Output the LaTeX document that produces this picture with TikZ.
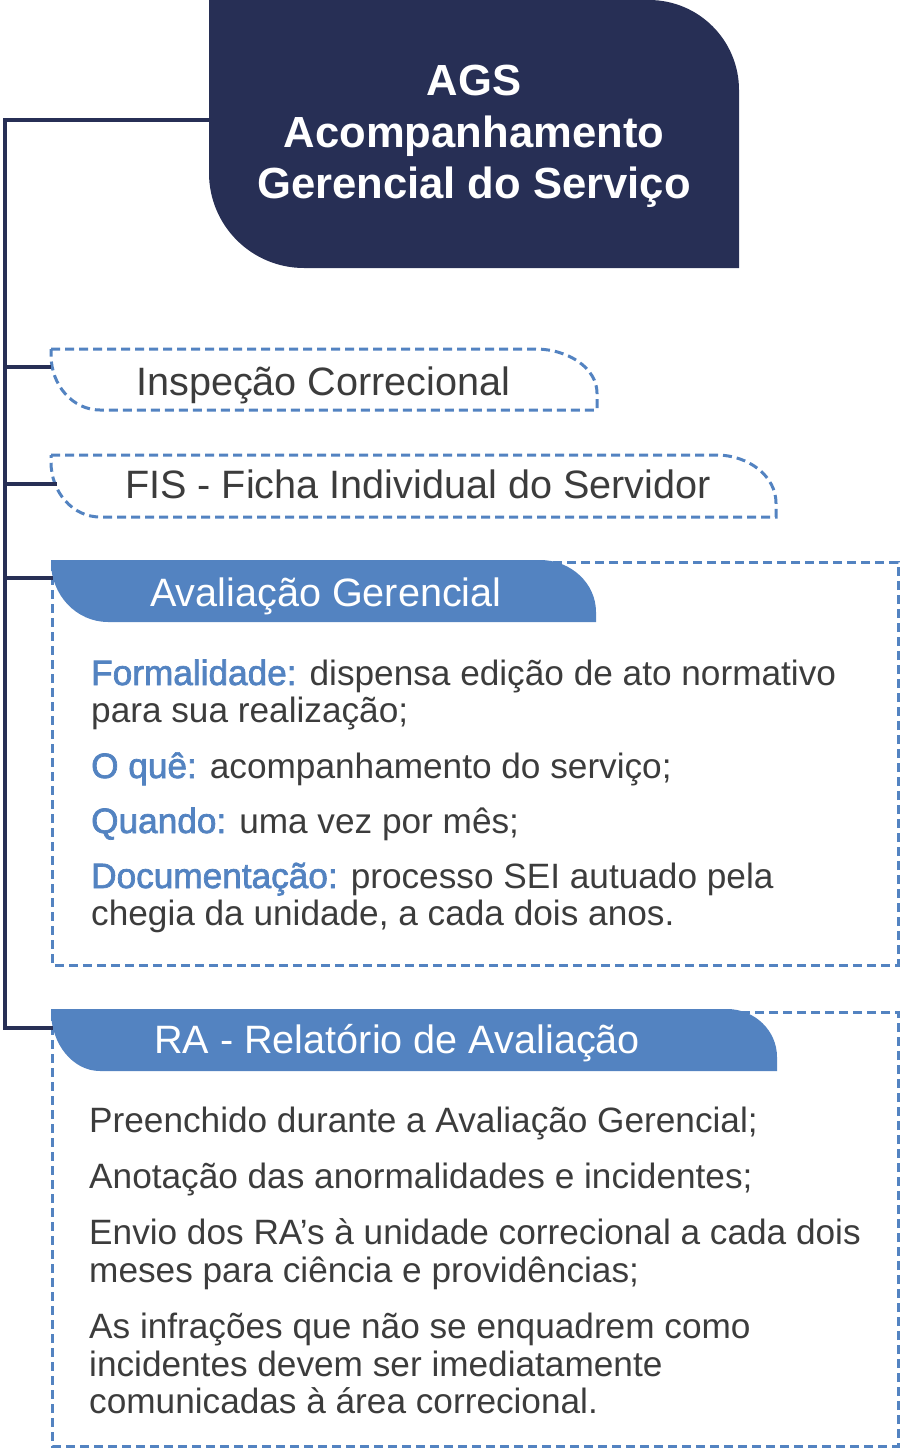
\documentclass[tikz,border=0pt]{standalone}
\usepackage{fontspec}
\setmainfont{Liberation Sans}
\newfontfamily\medfont{Liberation Sans}[FakeBold=2]
\definecolor{navy}{RGB}{39,47,85}
\definecolor{lblue}{RGB}{83,131,193}
\definecolor{txtgrey}{RGB}{60,60,60}
\tikzset{
  conn/.style={draw=navy, line width=4pt},
  dashbox/.style={draw=lblue, line width=3pt, dash pattern=on 9pt off 5pt},
  tabfill/.style={fill=lblue},
  headfill/.style={fill=navy},
  titletxt/.style={inner sep=0pt, anchor=base, text=white, font=\fontsize{43.6}{52}\selectfont\bfseries},
  tabtxt/.style={inner sep=0pt, anchor=base west, font=\fontsize{39.6}{46}\selectfont},
  bodytxt/.style={inner sep=0pt, anchor=base west, text=txtgrey, font=\fontsize{35.2}{38}\selectfont},
}
\newcommand{\lbl}[1]{{\medfont\color{lblue}#1}}
\begin{document}
\begin{tikzpicture}[x=1pt, y=-1pt]
\useasboundingbox (0,0) rectangle (900,1450);

% header
\path[headfill] (209,0) -- (649,0) .. controls (698.7,0) and (739,40.3) .. (739,90)
  -- (739,268) -- (304,268) .. controls (251.5,268) and (209,225.5) .. (209,173) -- cycle;
\node[titletxt] (t1) at (474,96) {AGS};
\node[titletxt] (t2) at (474,148) {Acompanhamento};
\node[titletxt] (t3) at (474,199) {Gerencial do Serviço};

% Inspecao
\path[dashbox] (51,349) -- (535,349) .. controls (569.2,349) and (597,368.7) .. (597,393)
  -- (597,410) -- (100,410) .. controls (72.9,410) and (51,385.4) .. (51,355) -- cycle;
\node[tabtxt, text=txtgrey] (insp) at (136,395) {Inspeção Correcional};

% FIS
\path[dashbox] (51,455) -- (716,455) .. controls (749.1,455) and (776,476.5) .. (776,503)
  -- (776,517) -- (100,517) .. controls (72.9,517) and (51,492.4) .. (51,462) -- cycle;
\node[tabtxt, text=txtgrey] (fis) at (125,498) {FIS - Ficha Individual do Servidor};

% Avaliacao Gerencial
\path[dashbox] (52,562) rectangle (898,965);
\path[tabfill] (51,560) -- (540,560) .. controls (570.9,560) and (596,583.3) .. (596,612)
  -- (596,622) -- (108,622) .. controls (76.5,622) and (51,595.1) .. (51,562) -- cycle;
\node[tabtxt, text=white] (aval) at (150,606) {Avaliação Gerencial};
\node[bodytxt] (a1) at (91,685) {\lbl{Formalidade:} dispensa edição de ato normativo};
\node[bodytxt] (a2) at (91,722) {para sua realização;};
\node[bodytxt] (a3) at (91,778) {\lbl{O quê:} acompanhamento do serviço;};
\node[bodytxt] (a4) at (91,833) {\lbl{Quando:} uma vez por mês;};
\node[bodytxt] (a5) at (91,888) {\lbl{Documentação:} processo SEI autuado pela};
\node[bodytxt] (a6) at (91,925) {chegia da unidade, a cada dois anos.};

% RA
\path[dashbox] (52,1012) rectangle (898,1446);
\path[tabfill] (51,1009) -- (727,1009) .. controls (754.6,1009) and (777,1030.5) .. (777,1057)
  -- (777,1071) -- (100,1071) .. controls (72.9,1071) and (51,1044.1) .. (51,1011) -- cycle;
\node[tabtxt, text=white] (ra) at (154,1053) {RA - Relatório de Avaliação};
\node[bodytxt] (r1) at (89,1132) {Preenchido durante a Avaliação Gerencial;};
\node[bodytxt] (r2) at (89,1188) {Anotação das anormalidades e incidentes;};
\node[bodytxt] (r3) at (89,1244) {Envio dos RA’s à unidade correcional a cada dois};
\node[bodytxt] (r4) at (89,1282) {meses para ciência e providências;};
\node[bodytxt] (r5) at (89,1338) {As infrações que não se enquadrem como};
\node[bodytxt] (r6) at (89,1376) {incidentes devem ser imediatamente};
\node[bodytxt] (r7) at (89,1413) {comunicadas à área correcional.};

% connectors
\coordinate (agsW) at (211,120);
\coordinate (spTop) at (5,120);
\coordinate (spBot) at (5,1028);
\coordinate (inspW) at (51,367);
\coordinate (fisW) at (57,484);
\coordinate (avalW) at (53,578);
\coordinate (raW) at (53,1028);
\draw[conn, line join=miter] (agsW) -- (spTop) -- (spBot) -- (raW);
\draw[conn] (inspW) -- (inspW -| spTop);
\draw[conn] (fisW) -- (fisW -| spTop);
\draw[conn] (avalW) -- (avalW -| spTop);
\end{tikzpicture}
\end{document}
